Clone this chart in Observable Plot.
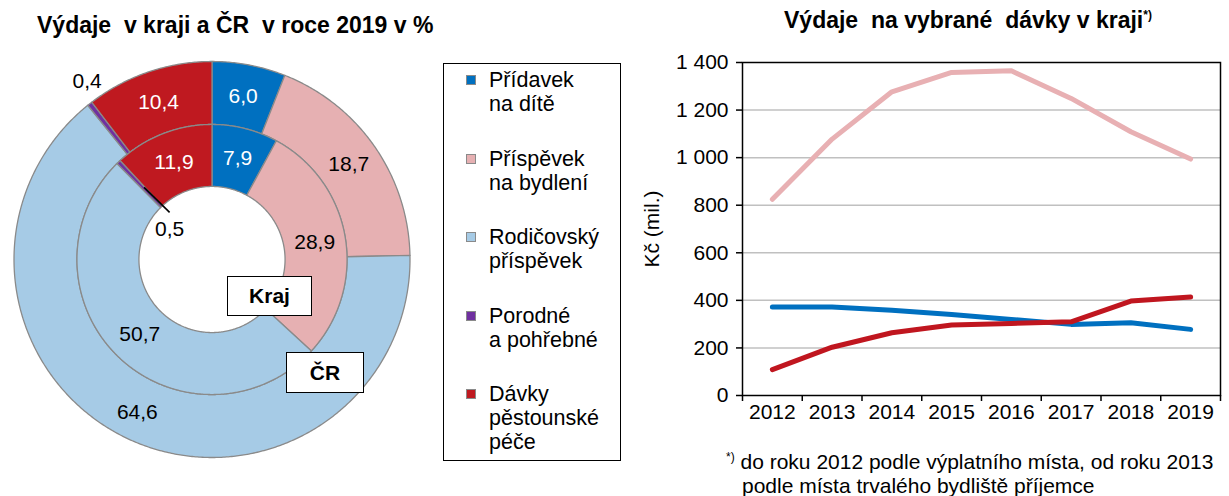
<!DOCTYPE html>
<html><head><meta charset="utf-8">
<script src="https://cdn.jsdelivr.net/npm/d3@7"></script>
<script src="https://cdn.jsdelivr.net/npm/@observablehq/plot@0.6"></script>
<style>
body{margin:0;background:#fff;font-family:"Liberation Sans",Arial,sans-serif;color:#000;}
#root{position:relative;width:1229px;height:496px;overflow:hidden;background:#fff;}
.abs{position:absolute;}
.title{font-weight:bold;font-size:23px;white-space:nowrap;}
.box{position:absolute;background:#fff;border:1.5px solid #000;box-sizing:border-box;font-weight:bold;font-size:21px;display:flex;align-items:center;justify-content:center;}
#legend{position:absolute;left:443px;top:63px;width:178px;height:398px;border:1.5px solid #000;box-sizing:border-box;background:#fff;}
.li{position:absolute;left:45px;font-size:21.5px;line-height:24px;white-space:nowrap;}
.sw{position:absolute;left:22px;width:8px;height:8px;border:1px solid #8a8a8a;}
.foot{font-size:21px;white-space:nowrap;}
</style></head><body><div id="root"></div>
<script>
// ---- data ----
const categories = ["Přídavek na dítě", "Příspěvek na bydlení", "Rodičovský příspěvek", "Porodné a pohřebné", "Dávky pěstounské péče"];
const legendLines = [["Přídavek", "na dítě"], ["Příspěvek", "na bydlení"], ["Rodičovský", "příspěvek"], ["Porodné", "a pohřebné"], ["Dávky", "pěstounské", "péče"]];
const sliceColors = ["#0070C0", "#E6B0B2", "#A6CBE6", "#7030A0", "#BF1920"];
const krajShares = [7.9, 28.9, 50.7, 0.5, 11.9];
const crShares = [6.0, 18.7, 64.6, 0.4, 10.4];

const years = [2012, 2013, 2014, 2015, 2016, 2017, 2018, 2019];
const seriesNames = ["Příspěvek na bydlení", "Přídavek na dítě", "Dávky pěstounské péče"];
const seriesColors = ["#E8B0B3", "#0070C0", "#C0161F"];
const bydleni = [825, 1078, 1277, 1358, 1365, 1249, 1109, 994];
const pridavek = [372, 372, 358, 341, 320, 299, 306, 278];
const pestounske = [109, 203, 264, 296, 303, 310, 397, 414];
const yTicks = [0, 200, 400, 600, 800, 1000, 1200, 1400];

const root = document.getElementById("root");
function add(html, cls, style) { const d = document.createElement("div"); d.className = cls; d.style.cssText = style; d.innerHTML = html; root.appendChild(d); return d; }

// ---- donut ----
const R_HOLE = 0.369, R_MID = 0.682, R_OUT = 1;
function ring(shares, r0, r1, name) {
  const total = d3.sum(shares); let acc = 0;
  return shares.map((v, i) => { const a0 = acc / total * 360; acc += v; const a1 = acc / total * 360;
    return {name, i, cat: categories[i], v, a0, a1, r0, r1}; });
}
const slices = [...ring(crShares, R_MID, R_OUT, "cr"), ...ring(krajShares, R_HOLE, R_MID, "kraj")];
const rad = a => a * Math.PI / 180;
const pts = [];
for (const s of slices) {
  const n = Math.max(2, Math.ceil((s.a1 - s.a0) / 0.5)); const poly = [];
  for (let k = 0; k <= n; k++) { const a = rad(s.a0 + (s.a1 - s.a0) * k / n); poly.push({id: s.name + s.i, cat: s.cat, x: s.r1 * Math.sin(a), y: s.r1 * Math.cos(a)}); }
  for (let k = n; k >= 0; k--) { const a = rad(s.a0 + (s.a1 - s.a0) * k / n); poly.push({id: s.name + s.i, cat: s.cat, x: s.r0 * Math.sin(a), y: s.r0 * Math.cos(a)}); }
  poly.push({...poly[0]}); pts.push(...poly);
}
const fmt = v => d3.format(".1f")(v).replace(".", ",");
const labels = slices.map(s => {
  let a = (s.a0 + s.a1) / 2, r = (s.r0 + s.r1) / 2, dy = 0;
  if (s.name === "cr" && s.i === 2) { a = 206; r = 0.86; }
  if (s.name === "cr" && s.i === 3) { a = 325; r = 1.10; }
  if (s.name === "kraj" && s.i === 3) { a = 318; r = 0.32; dy = 17; }
  return {x: r * Math.sin(rad(a)), y: r * Math.cos(rad(a)), dy, text: fmt(s.v), white: (s.i === 0 || s.i === 4)};
});
const pk = slices.find(s => s.name === "kraj" && s.i === 3); const pa = rad((pk.a0 + pk.a1) / 2 + 0.5);
const leader = [{x1: 0.5 * Math.sin(pa), y1: 0.5 * Math.cos(pa), x2: 0.32 * Math.sin(rad(318)), y2: 0.32 * Math.cos(rad(318))}];

const donut = Plot.plot({
  width: 430, height: 496, marginLeft: 13.5, marginRight: 20.5, marginTop: 61, marginBottom: 39,
  x: {domain: [-1, 1], axis: null}, y: {domain: [-1, 1], axis: null},
  color: {domain: categories, range: sliceColors},
  style: {fontFamily: "'Liberation Sans', Arial, sans-serif", fontSize: "21px", background: "transparent", color: "black"},
  marks: [
    Plot.line(pts, {x: "x", y: "y", z: "id", fill: "cat", stroke: "#8a8a8a", strokeWidth: 1.3, curve: "linear"}),
    Plot.link(leader, {x1: "x1", y1: "y1", x2: "x2", y2: "y2", stroke: "black", strokeWidth: 1.6}),
    Plot.text(labels.filter(d => d.white), {x: "x", y: "y", text: "text", fill: "white", fontSize: 21}),
    Plot.text(labels.filter(d => !d.white && d.dy === 0), {x: "x", y: "y", text: "text", fill: "black", fontSize: 21}),
    Plot.text(labels.filter(d => d.dy !== 0), {x: "x", y: "y", text: "text", fill: "black", fontSize: 21, dy: 17})
  ]
});
donut.style.position = "absolute"; donut.style.left = "0px"; donut.style.top = "0px";
root.appendChild(donut);

add("Kraj", "box", "left:227px;top:276px;width:85px;height:40px;");
add("ČR", "box", "left:286px;top:352px;width:78px;height:41px;");

add("Výdaje&nbsp; v kraji a ČR&nbsp; v roce 2019 v %", "abs title", "left:37px;top:12px;");

// legend
const legend = document.createElement("div"); legend.id = "legend"; root.appendChild(legend);
legendLines.forEach((lines, i) => {
  const top = 4 + i * 78.5;
  const it = document.createElement("div"); it.className = "li"; it.style.top = top + "px"; it.innerHTML = lines.join("<br>"); legend.appendChild(it);
  const sw = document.createElement("div"); sw.className = "sw"; sw.style.top = (top + 7) + "px"; sw.style.background = sliceColors[i]; legend.appendChild(sw);
});

// ---- line chart ----
const rows = [];
[bydleni, pridavek, pestounske].forEach((vals, si) => vals.forEach((v, k) => rows.push({year: years[k], value: v, series: seriesNames[si]})));
const bounds = d3.range(years[0] - 0.5, years[years.length - 1] + 1, 1);
const lineChart = Plot.plot({
  width: 609, height: 496, marginLeft: 122, marginRight: 9, marginTop: 62, marginBottom: 101,
  x: {domain: [years[0] - 0.5, years[years.length - 1] + 0.5], axis: null},
  y: {domain: [0, 1400], axis: null},
  color: {domain: seriesNames, range: seriesColors},
  style: {fontFamily: "'Liberation Sans', Arial, sans-serif", fontSize: "21px", background: "transparent", color: "black"},
  marks: [
    Plot.gridY(yTicks.slice(1, -1), {stroke: "#c0c0c0", strokeOpacity: 1, strokeWidth: 1.5}),
    Plot.line(rows, {x: "year", y: "value", z: "series", stroke: "series", strokeWidth: 5, strokeLinecap: "round", strokeLinejoin: "round"}),
    Plot.frame({stroke: "black", strokeWidth: 1.5}),
    Plot.axisY({ticks: yTicks, label: null, tickSize: 6, tickPadding: 8, tickFormat: d => d3.format(",")(d).replace(",", "\u00a0"), fontSize: 21, stroke: "black", strokeWidth: 1.5}),
    Plot.axisX({ticks: years, label: null, tickSize: 0, tickPadding: 9, tickFormat: d => String(d), fontSize: 21}),
    Plot.axisX({ticks: bounds, label: null, tickSize: 6, tickFormat: () => "", stroke: "black", strokeWidth: 1.5})
  ]
});
lineChart.style.position = "absolute"; lineChart.style.left = "620px"; lineChart.style.top = "0px";
root.appendChild(lineChart);

add("Výdaje&nbsp; na vybrané&nbsp; dávky v kraji<sup style='font-size:12px'>*)</sup>", "abs title", "left:784px;top:7px;");
add("Kč (mil.)", "abs", "left:652px;top:229px;font-size:21px;white-space:nowrap;transform:translate(-50%,-50%) rotate(-90deg);");
add("<sup style='font-size:12px'>*)</sup>&nbsp;do roku 2012 podle výplatního místa, od roku 2013", "abs foot", "left:726px;top:450px;");
add("podle místa trvalého bydliště příjemce", "abs foot", "left:742px;top:474px;");
</script></body></html>
